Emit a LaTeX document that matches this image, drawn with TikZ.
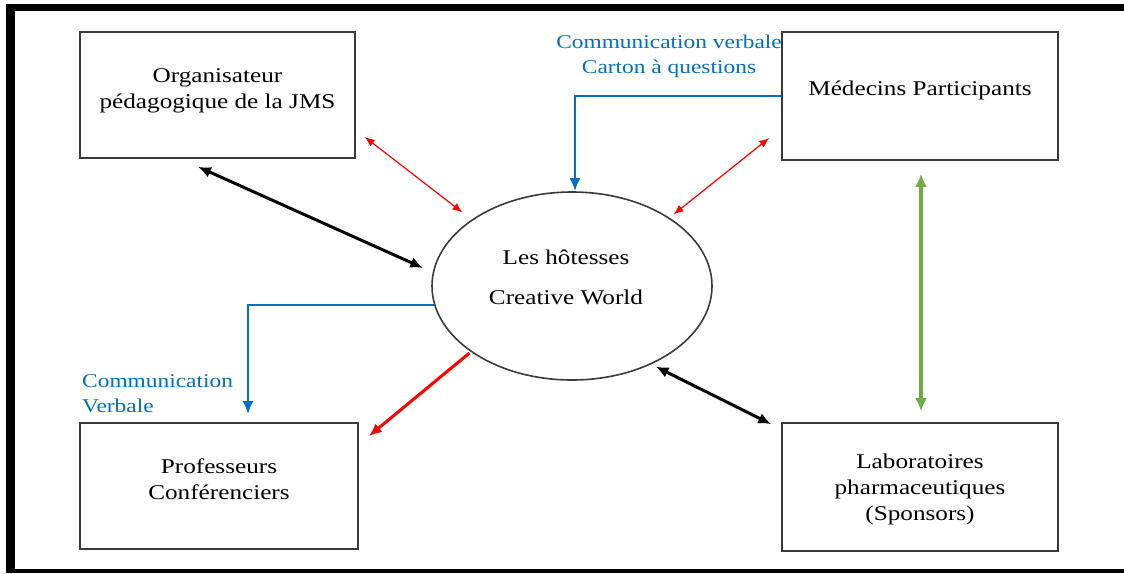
\documentclass[tikz,border=0pt]{standalone}
\usepackage{fontspec}
\setmainfont[FakeStretch=1.2]{Liberation Serif}
\usetikzlibrary{arrows.meta,shapes.geometric}
\definecolor{boxgray}{HTML}{3A3A3A}
\definecolor{cblue}{HTML}{0070C0}
\definecolor{cred}{HTML}{FF0000}
\definecolor{cgreen}{HTML}{70AD47}
\begin{document}
\begin{tikzpicture}[x=1pt,y=-1pt,
  box/.style={draw=boxgray, line width=1.6pt, minimum width=276pt, minimum height=127pt, inner sep=0pt},
  txt/.style={font=\fontsize{21}{26}\selectfont, align=center, inner sep=0pt},
  btxt/.style={font=\fontsize{19.5}{25}\selectfont, text=cblue, inner sep=0pt},
  blk/.style={draw=black, line width=3pt, {Latex[length=13pt,width=11pt]}-{Latex[length=13pt,width=11pt]}},
  redthin/.style={draw=cred, line width=1.2pt, {Latex[length=10pt,width=8pt]}-{Latex[length=10pt,width=8pt]}},
  redthick/.style={draw=cred, line width=3pt, -{Latex[length=13pt,width=11pt]}},
  blu/.style={draw=cblue, line width=2.7pt, -{Latex[length=13pt,width=11pt]}},
  grn/.style={draw=cgreen, line width=3.2pt, {Latex[length=13pt,width=12pt]}-{Latex[length=13pt,width=12pt]}}
]
\useasboundingbox (0,0) rectangle (1124,573);
% frame
\fill[black] (6,4) rectangle (1124,11);
\fill[black] (6,4) rectangle (15,573);
\fill[black] (6,569) rectangle (1124,573);

% boxes
\node[box, minimum width=275pt, minimum height=126pt] (org) at (217.5,95) {};
\node[box, minimum width=276pt, minimum height=128pt] (med) at (920,96) {};
\node[box, minimum width=278pt, minimum height=126pt] (prof) at (219,486) {};
\node[box, minimum width=276pt, minimum height=128pt] (lab) at (920,487) {};
\node[draw=boxgray, line width=1.6pt, ellipse, minimum width=280pt, minimum height=188pt, inner sep=0pt] (ell) at (572,286) {};

% texts
\node[txt] (orgt) at (217.5,91) {Organisateur\\p\'edagogique de la JMS};
\node[txt] (medt) at (920,90) {M\'edecins Participants};
\node[txt] (proft) at (219,479) {Professeurs\\Conf\'erenciers};
\node[txt] (labt) at (920,489) {Laboratoires\\pharmaceutiques\\(Sponsors)};
\node[txt, font=\fontsize{21}{40}\selectfont] (ellt) at (566,277) {Les h\^otesses\\Creative World};

% blue labels
\node[btxt, align=center] (lab1) at (669,56) {Communication verbale\\Carton \`a questions};
\node[btxt, align=left, anchor=west] (lab2) at (82,394) {Communication\\Verbale};

% connectors
\draw[blk] ([shift={(-19.5,8)}]org.south) -- ([shift={(-8,-18)}]ell.west);
\draw[redthin] ([shift={(9,42)}]org.east) -- ([shift={(-10,-6.5)}]ell.north west);
\draw[redthin] ([shift={(-12,42)}]med.west) -- ([shift={(2,-4.5)}]ell.north east);
\draw[blu] (med.west) -| ([shift={(3,0)}]ell.north);
\draw[blu] ([shift={(3,19)}]ell.west) -| ([shift={(29,-8)}]prof.north);
\draw[redthick] ([shift={(-3,0)}]ell.south west) -- ([shift={(10,14)}]prof.north east);
\draw[blk] ([shift={(-16,13.5)}]ell.south east) -- ([shift={(-10,2)}]lab.north west);
\draw[grn] ([shift={(1,13)}]med.south) -- ([shift={(1,-11)}]lab.north);
\end{tikzpicture}
\end{document}
